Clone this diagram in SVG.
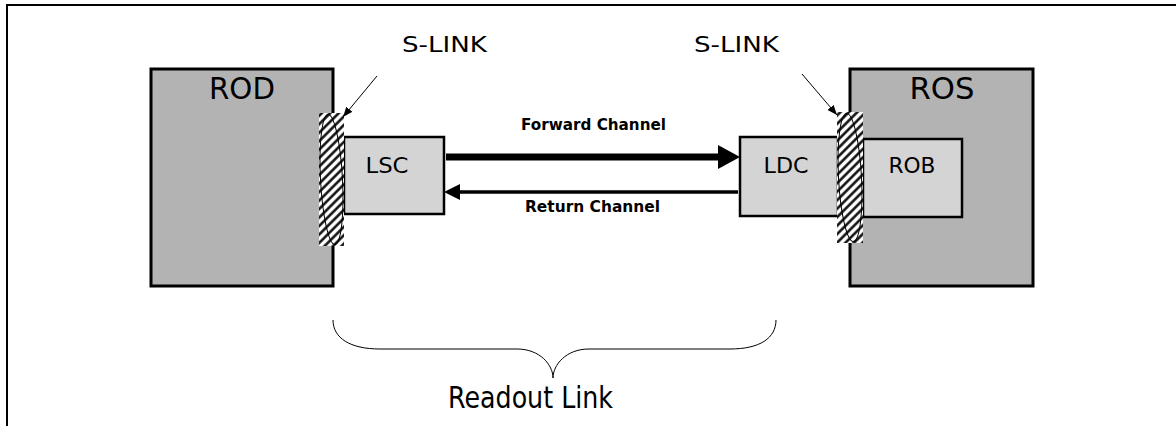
<svg xmlns="http://www.w3.org/2000/svg" width="1176" height="426" viewBox="0 0 1176 426">
<style>
.big{fill:#b3b3b3;stroke:#000;stroke-width:3}
.small{fill:#d4d4d4;stroke:#000;stroke-width:2.5}
.t{font-family:"DejaVu Sans","Liberation Sans",sans-serif;fill:#000}
.lbl{font-family:"DejaVu Sans","Liberation Sans",sans-serif;font-weight:bold;font-size:15px;fill:#000}
.hatch{fill:url(#h);stroke:none}
.ell{fill:none;stroke:#000;stroke-width:1}
.pt{stroke:#000;stroke-width:1;fill:none}
</style>
<defs>
<pattern id="h" patternUnits="userSpaceOnUse" width="6" height="6" patternTransform="rotate(45)">
<rect width="6" height="6" fill="#fff"/>
<line x1="1.5" y1="0" x2="1.5" y2="6" stroke="#000" stroke-width="2.4"/>
</pattern>
<marker id="ah" markerWidth="10" markerHeight="8" refX="10" refY="4" orient="auto" markerUnits="userSpaceOnUse">
<path d="M0,0 L10,4 L0,8 Z" fill="#000"/>
</marker>
</defs>
<g id="frame">
<line x1="6" y1="5" x2="1176" y2="5" stroke="#000" stroke-width="2"/>
<line x1="7" y1="4" x2="7" y2="426" stroke="#000" stroke-width="2"/>
</g>
<g id="rod">
<rect class="big" x="151" y="69" width="182" height="217"/>
<text class="t" x="242" y="99" font-size="30" text-anchor="middle" textLength="66" lengthAdjust="spacingAndGlyphs">ROD</text>
</g>
<g id="lsc">
<rect class="small" x="344" y="137" width="100" height="77"/>
<text class="t" x="387" y="173" font-size="22" text-anchor="middle" textLength="43" lengthAdjust="spacingAndGlyphs">LSC</text>
</g>
<g id="slink-left">
<rect class="hatch" x="319" y="113" width="25" height="133"/>
<ellipse class="ell" cx="331.5" cy="179.5" rx="11" ry="65" transform="rotate(-3 331.5 179.5)"/>
</g>
<g id="ros">
<rect class="big" x="850" y="69" width="183" height="217"/>
<text class="t" x="942" y="99" font-size="30" text-anchor="middle" textLength="65" lengthAdjust="spacingAndGlyphs">ROS</text>
</g>
<g id="rob">
<rect class="small" x="863" y="139" width="99" height="78"/>
<text class="t" x="912" y="173" font-size="22" text-anchor="middle" textLength="47" lengthAdjust="spacingAndGlyphs">ROB</text>
</g>
<g id="ldc">
<rect class="small" x="740" y="137" width="98" height="79"/>
<text class="t" x="786" y="173" font-size="22" text-anchor="middle" textLength="45" lengthAdjust="spacingAndGlyphs">LDC</text>
</g>
<g id="slink-right">
<rect class="hatch" x="837" y="112" width="26" height="131"/>
<ellipse class="ell" cx="850" cy="177.5" rx="11.5" ry="64" transform="rotate(-3 850 177.5)"/>
</g>
<g id="labels">
<text class="t" x="402" y="52" font-size="22" textLength="85" lengthAdjust="spacingAndGlyphs">S-LINK</text>
<text class="t" x="694" y="52" font-size="22" textLength="85" lengthAdjust="spacingAndGlyphs">S-LINK</text>
<text class="lbl" x="521" y="130" textLength="145" lengthAdjust="spacingAndGlyphs">Forward Channel</text>
<text class="lbl" x="525" y="212" textLength="135" lengthAdjust="spacingAndGlyphs">Return Channel</text>
<text class="t" x="448" y="408" font-size="30" textLength="165" lengthAdjust="spacingAndGlyphs">Readout Link</text>
</g>
<g id="connectors">
<line class="pt" x1="377" y1="76" x2="343" y2="117" marker-end="url(#ah)"/>
<line class="pt" x1="802" y1="74" x2="837" y2="115" marker-end="url(#ah)"/>
<line x1="446" y1="157" x2="720" y2="157" stroke="#000" stroke-width="7"/>
<polygon points="718,145 740,157 718,169" fill="#000"/>
<line x1="457" y1="192" x2="738" y2="192" stroke="#000" stroke-width="3.5"/>
<polygon points="444,192 460,184 460,200" fill="#000"/>
<path d="M333,320 C333,338 350,349 380,349 L517,349 C540,349 553,365 553,378 C553,365 566,349 589,349 L730,349 C760,349 776,338 776,320" fill="none" stroke="#000" stroke-width="1"/>
</g>
</svg>
